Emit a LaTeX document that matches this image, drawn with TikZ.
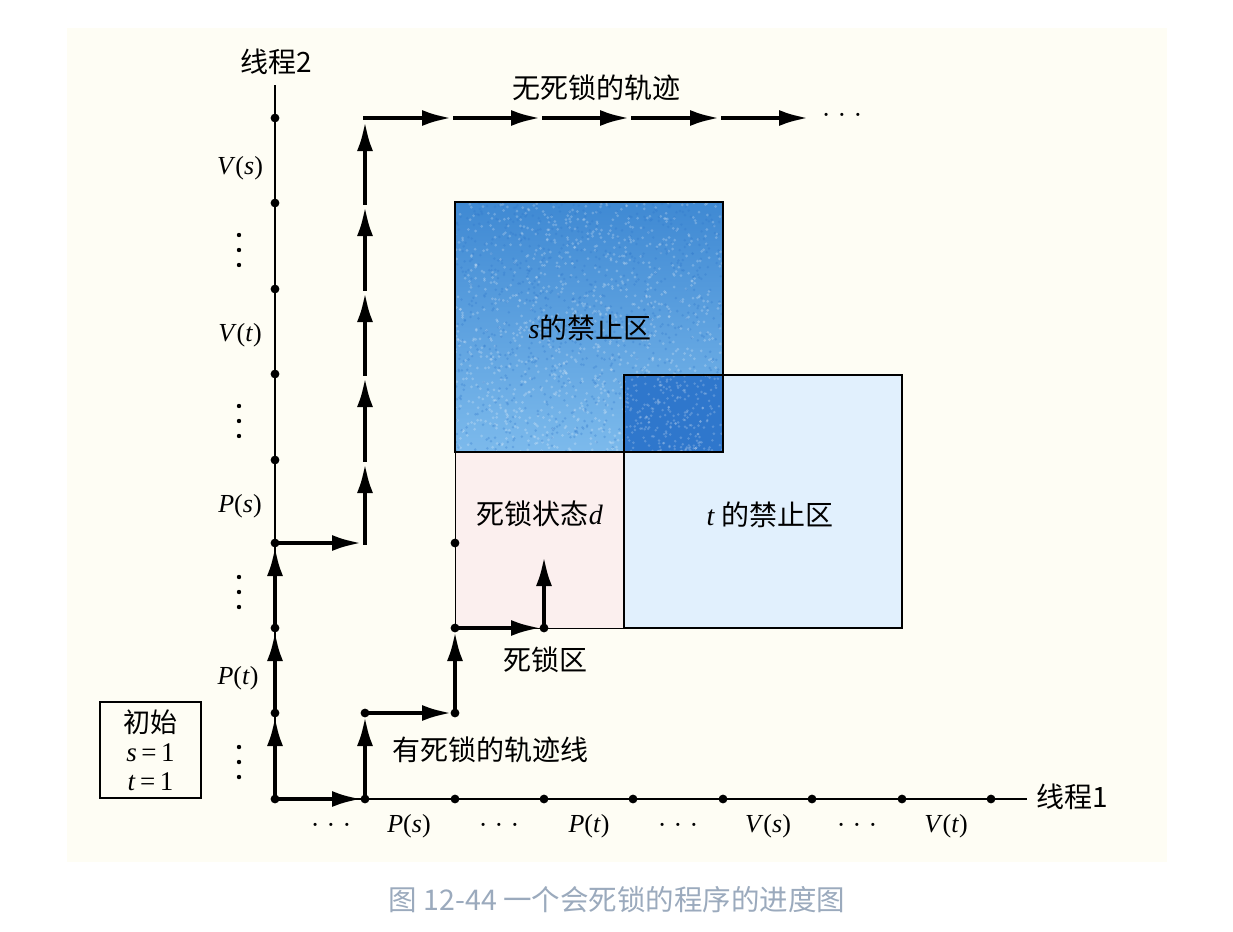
\documentclass[tikz,border=0pt]{standalone}
\usepackage{fontspec}
\setmainfont{Liberation Serif}
\newfontfamily\cjk{Noto Sans CJK SC}
\newcommand\myit[1]{\textrm{\textit{#1}}}
\usetikzlibrary{arrows.meta}
\definecolor{cream}{HTML}{FEFDF4}
\definecolor{sbluetop}{HTML}{3F89D3}
\definecolor{sbluebot}{HTML}{7CBAEC}
\definecolor{oblue}{HTML}{2F77CC}
\definecolor{tblue}{HTML}{E1F0FD}
\definecolor{dpink}{HTML}{FBEFEE}
\definecolor{capgray}{HTML}{9BAABD}
\begin{document}
\begin{tikzpicture}[x=1pt,y=-1pt,
  axis/.style={line width=1.6pt},
  traj/.style={line width=4.6pt, line cap=rect, -{Latex[length=30pt,width=16pt]}, shorten >=3pt},
  cjklab/.style={font=\cjk\fontsize{28}{31}\selectfont, inner sep=0pt},
  mathlab/.style={font=\fontsize{26}{30}\selectfont, inner sep=0pt},
  region/.style={draw=black, line width=1.2pt}
]
\useasboundingbox (0,0) rectangle (1233,931);
\fill[white] (0,0) rectangle (1233,931);
\fill[cream] (67,28) rectangle (1167,862);

% grid coordinates
\foreach \xv [count=\i from 0] in {275,365,455,544,633,723,812,902,991}{
  \foreach \yv [count=\j from 0] in {799,713,628,543,460,374,289,203,118}{
    \coordinate (p\i-\j) at (\xv,\yv);
  }
}
\coordinate (xend) at (1027,799);
\coordinate (ytop) at (275,85);
\coordinate (dtip) at (544,553);

% regions
\fill[dpink] (455,452) rectangle (624,628);
\fill[tblue] (624,375) rectangle (902,628);
\shade[top color=sbluetop, bottom color=sbluebot] (455,202) rectangle (723,452);
\begin{scope}
  \clip (455,202) rectangle (723,452);
  \pgfmathsetseed{7}
  \foreach \k in {1,...,1100}{
    \pgfmathsetmacro\rx{455+268*rnd}
    \pgfmathsetmacro\ry{202+250*rnd}
    \fill[white, opacity=0.22] (\rx,\ry) circle (1.5pt);
  }
  \foreach \k in {1,...,900}{
    \pgfmathsetmacro\rx{455+268*rnd}
    \pgfmathsetmacro\ry{202+250*rnd}
    \fill[oblue, opacity=0.3] (\rx,\ry) circle (1.4pt);
  }
\end{scope}
\fill[oblue] (624,375) rectangle (723,452);
\begin{scope}
  \clip (624,375) rectangle (723,452);
  \foreach \k in {1,...,250}{
    \pgfmathsetmacro\rx{624+99*rnd}
    \pgfmathsetmacro\ry{375+77*rnd}
    \fill[white, opacity=0.2] (\rx,\ry) circle (1.4pt);
  }
\end{scope}
\draw[line width=1pt] (455,452) -- (455,628) -- (624,628);
\draw[region] (624,375) rectangle (902,628);
\draw[region] (455,202) rectangle (723,452);

% axes
\draw[axis] (p0-0) -- (xend);
\draw[axis] (p0-0) -- (ytop);
\foreach \i in {1,...,8}{ \fill (p\i-0) circle (4.4pt); }
\foreach \j in {1,...,8}{ \fill (p0-\j) circle (4.4pt); }
\fill (p0-0) circle (4.4pt);
\foreach \c in {p1-1,p2-1,p2-2,p3-2,p2-3}{ \fill (\c) circle (4.4pt); }

% vertical ellipses between y ticks
\foreach \yc in {250,421,592,762}{
  \foreach \d in {-15,0,15}{ \fill (239,\yc+\d) circle (2.2pt); }
}

% deadlocking trajectory
\draw[traj] (p0-0) -- (p1-0);
\draw[traj] (p1-0) -- (p1-1);
\draw[traj] (p1-1) -- (p2-1);
\draw[traj] (p2-1) -- (p2-2);
\draw[traj] (p2-2) -- (p3-2);
\draw[traj] (p3-2) -- (dtip);

% deadlock-free trajectory
\draw[traj] (p0-0) -- (p0-1);
\draw[traj] (p0-1) -- (p0-2);
\draw[traj] (p0-2) -- (p0-3);
\draw[traj] (p0-3) -- (p1-3);
\foreach \a/\b in {3/4,4/5,5/6,6/7,7/8}{ \draw[traj] (p1-\a) -- (p1-\b); }
\foreach \a/\b in {1/2,2/3,3/4,4/5,5/6}{ \draw[traj] (p\a-8) -- (p\b-8); }

% axis labels
\node[cjklab] (t2) at (276,62) {线程2};
\node[cjklab, anchor=west] (t1) at (1036,797) {线程1};

% x tick labels
\node[mathlab] (xl1) at (331,828) {·\;·\;·};
\node[mathlab] (xl2) at (409,826) {\myit{P}(\myit{s})};
\node[mathlab] (xl3) at (499,828) {·\;·\;·};
\node[mathlab] (xl4) at (589,826) {\myit{P}(\myit{t})};
\node[mathlab] (xl5) at (678,828) {·\;·\;·};
\node[mathlab] (xl6) at (768,826) {\myit{V}(\myit{s})};
\node[mathlab] (xl7) at (857,828) {·\;·\;·};
\node[mathlab] (xl8) at (946,826) {\myit{V}(\myit{t})};

% y tick labels
\node[mathlab] (yl8) at (240,168) {\myit{V}(\myit{s})};
\node[mathlab] (yl6) at (240,335) {\myit{V}(\myit{t})};
\node[mathlab] (yl4) at (240,506) {\myit{P}(\myit{s})};
\node[mathlab] (yl2) at (238,678) {\myit{P}(\myit{t})};

% initial box
\node[draw, line width=1.2pt, minimum width=101pt, minimum height=96pt, inner sep=0pt, align=center,
  font=\fontsize{27}{29}\selectfont] (init) at (150.5,750)
  {{\cjk 初始}\\ \myit{s}\,=\,1\\ \myit{t}\,=\,1};

% region labels
\node[cjklab] (slab) at (590,328) {\myit{s}的禁止区};
\node[cjklab] (tlab) at (770,515) {\myit{t} 的禁止区};
\node[cjklab] (dlab) at (540,514) {死锁状态\myit{d}};
\node[cjklab] (dz) at (545,660) {死锁区};
\node[cjklab] (dtraj) at (490,750) {有死锁的轨迹线};
\node[cjklab] (ftraj) at (596,88) {无死锁的轨迹};
\node[mathlab] (more) at (842,118) {·\;·\;·};

% caption
\node[font=\cjk\fontsize{28.5}{31}\selectfont, text=capgray, inner sep=0pt] (cap) at (617,900) {图 12-44 一个会死锁的程序的进度图};
\end{tikzpicture}
\end{document}
